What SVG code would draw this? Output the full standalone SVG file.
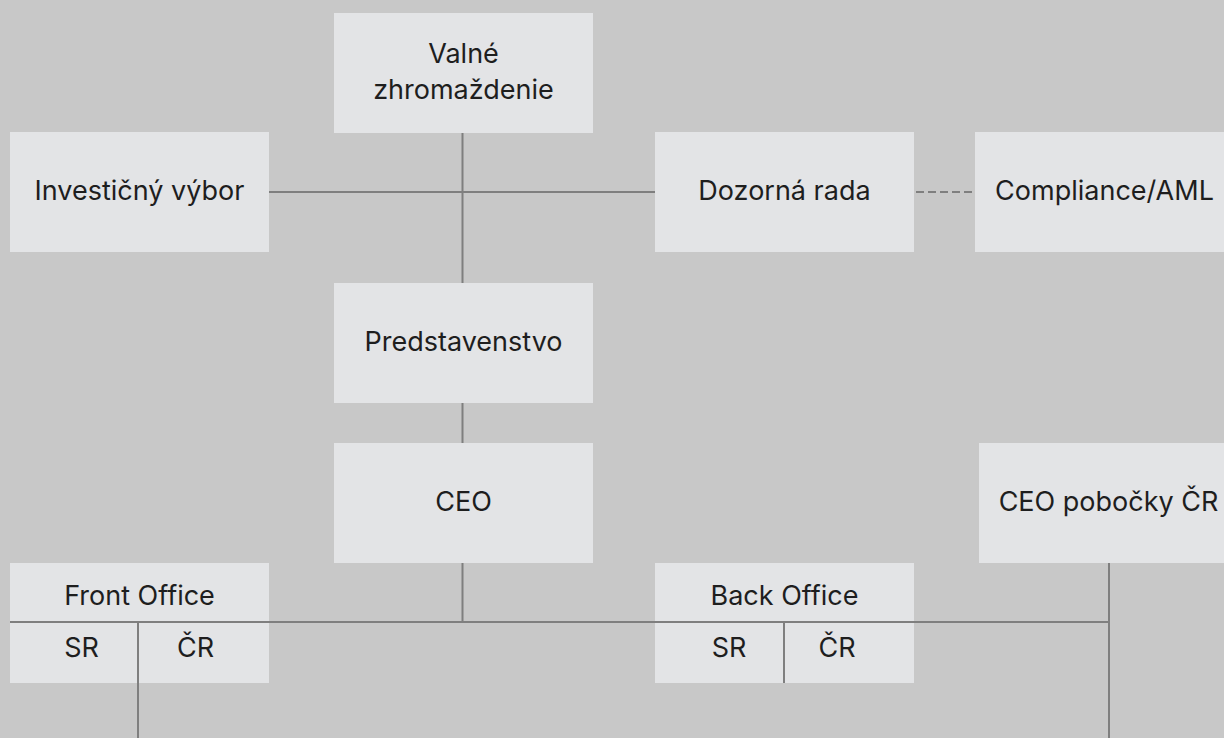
<svg xmlns="http://www.w3.org/2000/svg" width="1224" height="738" viewBox="0 0 1224 738">
<style>
.box{fill:#e3e4e6}
.t{font-family:Inter,"Liberation Sans",sans-serif;font-size:27px;fill:#1e1e1e;text-anchor:middle}
.ln{stroke:#7f7f7f;stroke-width:2;fill:none}
.dash{stroke:#7f7f7f;stroke-width:2;fill:none;stroke-dasharray:8 4}
</style>
<rect width="1224" height="738" fill="#c8c8c8"/>
<g id="connectors">
<line class="ln" x1="462.5" y1="133" x2="462.5" y2="283"/>
<line class="ln" x1="269" y1="192" x2="655" y2="192"/>
<line class="dash" x1="916" y1="192" x2="975" y2="192"/>
<line class="ln" x1="462.5" y1="403" x2="462.5" y2="443"/>
<line class="ln" x1="462.5" y1="563" x2="462.5" y2="622"/>
<line class="ln" x1="10" y1="622" x2="1109" y2="622"/>
<line class="ln" x1="1109" y1="563" x2="1109" y2="738"/>
<line class="ln" x1="138" y1="622" x2="138" y2="738"/>
<line class="ln" x1="784" y1="622" x2="784" y2="683"/>
</g>
<g id="valne">
<rect class="box" x="334" y="13" width="259" height="120"/>
<text class="t" x="463.5" y="63">Valné</text>
<text class="t" x="463.5" y="99">zhromaždenie</text>
</g>
<g id="investicny">
<rect class="box" x="10" y="132" width="259" height="120"/>
<text class="t" x="139.5" y="200">Investičný výbor</text>
</g>
<g id="dozorna">
<rect class="box" x="655" y="132" width="259" height="120"/>
<text class="t" x="784.5" y="200">Dozorná rada</text>
</g>
<g id="compliance">
<rect class="box" x="975" y="132" width="259" height="120"/>
<text class="t" x="1104.5" y="200">Compliance/AML</text>
</g>
<g id="predstavenstvo">
<rect class="box" x="334" y="283" width="259" height="120"/>
<text class="t" x="463.5" y="351">Predstavenstvo</text>
</g>
<g id="ceo">
<rect class="box" x="334" y="443" width="259" height="120"/>
<text class="t" x="463.5" y="511">CEO</text>
</g>
<g id="ceo-cr">
<rect class="box" x="979" y="443" width="259" height="120"/>
<text class="t" x="1108.5" y="511">CEO pobočky ČR</text>
</g>
<g id="front-office">
<rect class="box" x="10" y="563" width="259" height="120"/>
<line class="ln" x1="10" y1="622" x2="269" y2="622"/>
<line class="ln" x1="138" y1="622" x2="138" y2="683"/>
<text class="t" x="139.5" y="605">Front Office</text>
<text class="t" x="81.5" y="657">SR</text>
<text class="t" x="195.5" y="657">ČR</text>
</g>
<g id="back-office">
<rect class="box" x="655" y="563" width="259" height="120"/>
<line class="ln" x1="655" y1="622" x2="914" y2="622"/>
<line class="ln" x1="784" y1="622" x2="784" y2="683"/>
<text class="t" x="784.5" y="605">Back Office</text>
<text class="t" x="729" y="657">SR</text>
<text class="t" x="837" y="657">ČR</text>
</g>
</svg>
